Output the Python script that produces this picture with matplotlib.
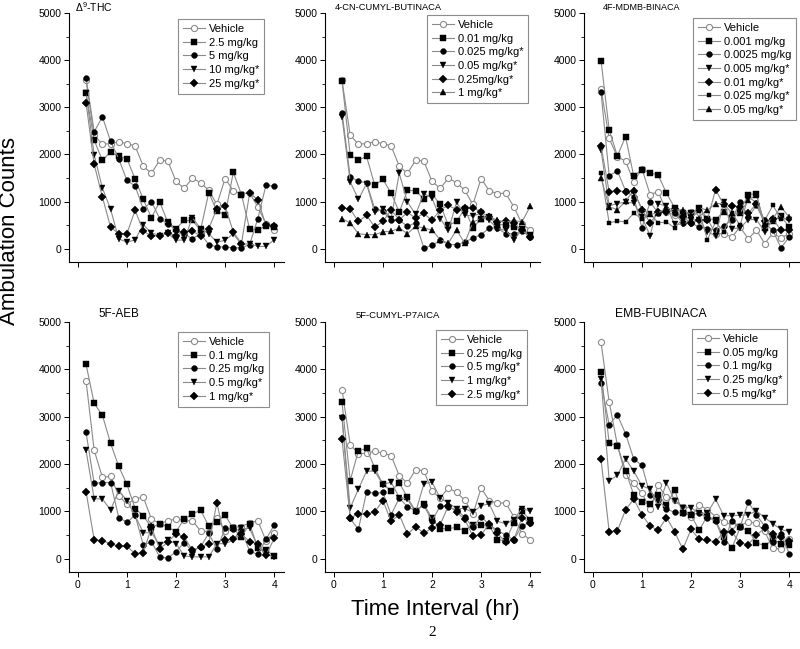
import numpy as np
import matplotlib
matplotlib.use("Agg")
import matplotlib.pyplot as plt
from matplotlib.ticker import MultipleLocator

plt.rcParams['font.family'] = ['Liberation Sans', 'DejaVu Sans']
plt.rcParams['mathtext.fontset'] = 'custom'
plt.rcParams['mathtext.rm'] = 'Liberation Sans'
plt.rcParams['mathtext.it'] = 'Liberation Sans:italic'

# time points (hr), 10-min bins
time_hr = [0.167, 0.333, 0.5, 0.667, 0.833, 1.0, 1.167, 1.333, 1.5, 1.667, 1.833, 2.0,
           2.167, 2.333, 2.5, 2.667, 2.833, 3.0, 3.167, 3.333, 3.5, 3.667, 3.833, 4.0]

# shared vehicle (THC, 4-CN-CUMYL-BUTINACA, 5F-CUMYL-P7AICA)
vehicle_a = [3570, 2410, 2220, 2230, 2270, 2230, 2180, 1750, 1600, 1880, 1860, 1430,
             1280, 1500, 1400, 1240, 940, 1490, 1230, 1170, 1180, 890, 530, 400]

# delta9-THC
thc_2_5 = [3310, 2300, 1880, 2050, 1960, 1910, 1480, 1050, 660, 1000, 560, 430,
           600, 600, 400, 1190, 800, 720, 1620, 1150, 420, 400, 490, 470]
thc_5 = [3630, 2480, 2800, 2280, 1910, 1450, 1330, 840, 1000, 640, 530, 390,
         320, 210, 320, 90, 40, 40, 20, 20, 90, 640, 1350, 1330]
thc_10 = [3310, 1990, 1290, 840, 210, 140, 190, 510, 340, 280, 330, 180,
          190, 660, 430, 320, 140, 180, 320, 90, 110, 50, 50, 190]
thc_25 = [3100, 1790, 1100, 460, 320, 320, 820, 370, 280, 280, 330, 280,
          360, 370, 280, 430, 850, 900, 360, 110, 1180, 1040, 500, 490]

# 4-CN-CUMYL-BUTINACA
cn_0_01 = [3560, 1990, 1880, 1960, 1350, 1470, 1180, 780, 1240, 1230, 1060, 1160,
           940, 500, 580, 850, 440, 640, 670, 510, 510, 460, 430, 300]
cn_0_025 = [2890, 1530, 1430, 1400, 850, 800, 600, 600, 480, 550, 20, 70,
            180, 90, 90, 140, 230, 300, 440, 440, 320, 320, 370, 260]
cn_0_05 = [2790, 1420, 1050, 1380, 770, 850, 640, 1600, 990, 730, 1170, 1080,
           640, 390, 990, 710, 700, 750, 600, 430, 390, 190, 400, 280]
cn_0_25 = [870, 840, 580, 710, 460, 580, 820, 620, 770, 650, 750, 600,
           830, 920, 830, 870, 870, 780, 670, 570, 580, 550, 390, 250]
cn_1 = [640, 550, 320, 300, 300, 360, 370, 440, 320, 480, 440, 400,
        190, 120, 400, 120, 570, 640, 690, 600, 570, 600, 570, 900]

# 4F-MDMB-BINACA
md_vehicle = [3390, 2340, 1950, 1860, 1420, 1700, 1150, 1210, 790, 710, 710, 770,
              790, 640, 320, 320, 250, 460, 210, 400, 110, 330, 230, 320]
md_0_001 = [3990, 2520, 1970, 2380, 1540, 1680, 1610, 1560, 1180, 870, 750, 750,
            870, 640, 620, 790, 640, 800, 1150, 1170, 450, 590, 690, 460]
md_0_0025 = [3320, 1550, 1650, 1230, 1100, 450, 990, 760, 850, 750, 550, 550,
             460, 430, 400, 480, 620, 990, 670, 920, 550, 390, 20, 250]
md_0_005 = [2090, 910, 960, 990, 970, 670, 280, 960, 900, 520, 520, 620,
            600, 360, 280, 990, 430, 440, 620, 620, 360, 620, 670, 600]
md_0_01 = [2180, 1210, 1230, 1210, 1220, 830, 550, 770, 770, 840, 670, 550,
           600, 620, 1250, 940, 910, 890, 750, 960, 580, 640, 390, 390]
md_0_025 = [1610, 550, 590, 570, 750, 640, 750, 550, 570, 440, 640, 660,
            800, 190, 570, 360, 760, 500, 1100, 980, 600, 920, 640, 640]
md_0_05 = [1500, 890, 830, 1010, 1240, 840, 730, 760, 870, 820, 830, 720,
           870, 820, 960, 960, 750, 760, 1030, 1140, 520, 640, 890, 670]

# 5F-AEB
aeb_vehicle = [3760, 2290, 1720, 1740, 1330, 1150, 1270, 1300, 840, 740, 800, 840,
               810, 800, 590, 570, 860, 590, 660, 680, 760, 800, 380, 550]
aeb_0_1 = [4110, 3280, 3030, 2440, 1950, 1570, 1060, 910, 660, 740, 670, 570,
           840, 940, 1030, 690, 780, 920, 640, 460, 740, 220, 180, 60]
aeb_0_25 = [2670, 1590, 1610, 1610, 870, 770, 920, 290, 360, 40, 10, 150,
            340, 160, 250, 540, 200, 640, 620, 600, 160, 90, 410, 710]
aeb_0_5 = [2290, 1270, 1260, 1030, 1440, 1230, 910, 550, 550, 290, 390, 320,
           60, 40, 40, 40, 320, 320, 390, 640, 640, 260, 90, 40]
aeb_1 = [1420, 400, 380, 320, 260, 260, 110, 130, 660, 210, 350, 530,
         460, 180, 250, 320, 1180, 400, 410, 520, 360, 320, 70, 430]

# 5F-CUMYL-P7AICA
p7_0_25 = [3300, 1650, 2280, 2330, 1920, 1570, 1440, 1600, 1300, 1000, 1160, 850,
           630, 640, 660, 590, 720, 710, 700, 400, 380, 760, 1000, 820]
p7_0_5 = [3000, 850, 620, 1410, 1380, 1400, 930, 1280, 1100, 1010, 1130, 800,
          1110, 1090, 1030, 880, 660, 890, 720, 600, 500, 400, 700, 760]
p7_1 = [2980, 1070, 1470, 1850, 1850, 1560, 1620, 1290, 1260, 980, 1580, 1620,
        1280, 1180, 1060, 1060, 980, 1120, 1160, 790, 740, 820, 1060, 1010]
p7_2_5 = [2520, 860, 950, 940, 990, 1230, 790, 930, 520, 680, 540, 650,
          720, 1120, 990, 830, 480, 500, 740, 540, 350, 400, 870, 760]

# EMB-FUBINACA
emb_vehicle = [4570, 3310, 2400, 1760, 1600, 1380, 1060, 1550, 1300, 1250, 1100, 880,
               1130, 1040, 890, 780, 720, 700, 780, 750, 580, 220, 210, 420]
emb_0_05 = [3950, 2440, 2390, 1860, 1350, 1200, 1150, 1350, 1130, 1450, 960, 920,
            600, 910, 810, 460, 220, 660, 590, 340, 270, 410, 320, 300]
emb_0_1 = [3720, 2830, 3040, 2640, 2110, 1970, 1350, 1240, 1050, 980, 960, 940,
           960, 870, 800, 360, 800, 670, 1200, 920, 690, 360, 520, 110]
emb_0_25 = [3790, 1650, 1760, 2110, 1850, 1540, 1470, 1100, 1600, 1230, 1080, 1080,
            960, 960, 1260, 910, 910, 920, 930, 1010, 870, 740, 620, 570]
emb_0_5 = [2100, 570, 590, 1030, 1260, 930, 690, 600, 870, 570, 200, 620,
           410, 390, 360, 570, 570, 330, 300, 500, 640, 520, 450, 380]

panels = [
    (r'$\Delta^{9}$-THC', 7.5,
     [('Vehicle', vehicle_a, 'o'), ('2.5 mg/kg', thc_2_5, 's'), ('5 mg/kg', thc_5, 'o'),
      ('10 mg/kg*', thc_10, 'v'), ('25 mg/kg*', thc_25, 'D')]),
    ('4-CN-CUMYL-BUTINACA', 6.7,
     [('Vehicle', vehicle_a, 'o'), ('0.01 mg/kg', cn_0_01, 's'), ('0.025 mg/kg*', cn_0_025, 'o'),
      ('0.05 mg/kg*', cn_0_05, 'v'), ('0.25mg/kg*', cn_0_25, 'D'), ('1 mg/kg*', cn_1, '^')]),
    ('4F-MDMB-BINACA', 6.5,
     [('Vehicle', md_vehicle, 'o'), ('0.001 mg/kg', md_0_001, 's'), ('0.0025 mg/kg', md_0_0025, 'o'),
      ('0.005 mg/kg*', md_0_005, 'v'), ('0.01 mg/kg*', md_0_01, 'D'),
      ('0.025 mg/kg*', md_0_025, 'small_s'), ('0.05 mg/kg*', md_0_05, '^')]),
    ('5F-AEB', 8.4,
     [('Vehicle', aeb_vehicle, 'o'), ('0.1 mg/kg', aeb_0_1, 's'), ('0.25 mg/kg', aeb_0_25, 'o'),
      ('0.5 mg/kg*', aeb_0_5, 'v'), ('1 mg/kg*', aeb_1, 'D')]),
    ('5F-CUMYL-P7AICA', 6.8,
     [('Vehicle', vehicle_a, 'o'), ('0.25 mg/kg', p7_0_25, 's'), ('0.5 mg/kg*', p7_0_5, 'o'),
      ('1 mg/kg*', p7_1, 'v'), ('2.5 mg/kg*', p7_2_5, 'D')]),
    ('EMB-FUBINACA', 8.7,
     [('Vehicle', emb_vehicle, 'o'), ('0.05 mg/kg', emb_0_05, 's'), ('0.1 mg/kg', emb_0_1, 'o'),
      ('0.25 mg/kg*', emb_0_25, 'v'), ('0.5 mg/kg*', emb_0_5, 'D')]),
]

W, H = 800, 649
fig = plt.figure(figsize=(8.0, 6.49), dpi=100)

lefts = [69, 325, 584]
tops = [13, 322]        # pixel y of the 5000 tick
bottoms = [262, 572]    # pixel y of x-axis
title_pos = [(75, 7), (335, 7), (603, 8), (98, 314), (356, 315), (615, 314)]
legend_pos = [(178, 19), (427, 15), (693, 18), (178, 332), (436, 330), (692, 329)]
line_gray = '#8a8a8a'

for i, (title, tsize, series) in enumerate(panels):
    row, col = divmod(i, 3)
    x0 = lefts[col]
    ax_w = 215
    y_top = tops[row]
    y_bot = bottoms[row]
    ax = fig.add_axes([x0 / W, 1 - y_bot / H, ax_w / W, (y_bot - y_top) / H])
    for label, vals, mk in series:
        if label == 'Vehicle':
            ax.plot(time_hr, vals, '-', color=line_gray, lw=0.8, marker='o', ms=4.4,
                    mfc='white', mec=line_gray, mew=0.8, label=label, zorder=2)
        else:
            m = mk
            ms = 4.2
            if mk == 'small_s':
                m, ms = 's', 3.0
            elif mk == 'D':
                ms = 3.8
            elif mk in ('v', '^'):
                ms = 4.6
            ax.plot(time_hr, vals, '-', color=line_gray, lw=0.8, marker=m, ms=ms,
                    mfc='black', mec='black', mew=0.3, label=label, zorder=3)
    ax.set_xlim(-0.18, 4.2)
    ax.set_ylim(-280, 5000)
    for s in ('top', 'right'):
        ax.spines[s].set_visible(False)
    for s in ('left', 'bottom'):
        ax.spines[s].set_linewidth(0.8)
    ax.xaxis.set_major_locator(MultipleLocator(1))
    ax.yaxis.set_major_locator(MultipleLocator(1000))
    ax.yaxis.set_minor_locator(MultipleLocator(500))
    ax.tick_params(axis='both', which='major', direction='out', length=3.5, width=0.7,
                   labelsize=7.5, pad=2)
    ax.tick_params(axis='y', which='minor', direction='out', length=2, width=0.6)
    if row == 0:
        ax.tick_params(axis='x', labelbottom=False)
    fig.text(title_pos[i][0] / W, 1 - title_pos[i][1] / H, title, fontsize=tsize,
             ha='left', va='center')
    lx, ly = legend_pos[i]
    leg = ax.legend(loc='upper left', bbox_to_anchor=(lx / W, 1 - ly / H),
                    bbox_transform=fig.transFigure, fontsize=8, frameon=True,
                    fancybox=False, framealpha=1, edgecolor='#8c8c8c',
                    labelspacing=0.33, handlelength=2.0, handletextpad=0.3,
                    borderpad=0.45, borderaxespad=0)
    leg.get_frame().set_linewidth(0.8)

fig.text(10 / W, 1 - 231 / H, 'Ambulation Counts', rotation=90, fontsize=16,
         ha='center', va='center')
fig.text(435 / W, 1 - 610 / H, 'Time Interval (hr)', fontsize=16, ha='center', va='center')
fig.text(432 / W, 1 - 633 / H, '2', fontsize=11, family='Liberation Serif',
         ha='center', va='center')

fig.savefig('out.png', dpi=100)
